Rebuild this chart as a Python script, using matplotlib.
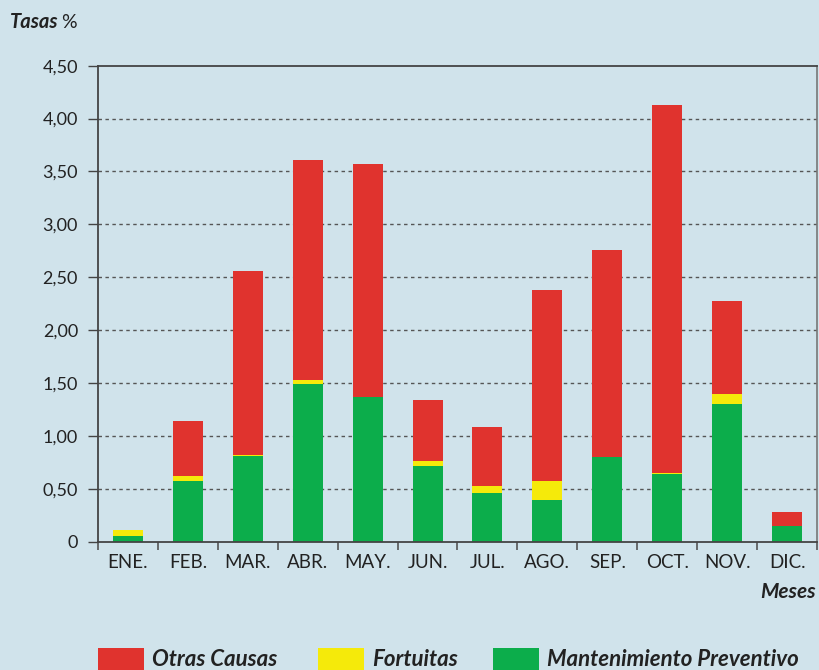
import matplotlib
matplotlib.use("Agg")
import matplotlib.pyplot as plt
import numpy as np
from matplotlib.patches import Rectangle

months = ["ENE.", "FEB.", "MAR.", "ABR.", "MAY.", "JUN.", "JUL.", "AGO.", "SEP.", "OCT.", "NOV.", "DIC."]
mantenimiento = [0.05, 0.57, 0.81, 1.49, 1.37, 0.72, 0.46, 0.39, 0.80, 0.64, 1.30, 0.15]
fortuitas = [0.06, 0.05, 0.01, 0.04, 0.00, 0.04, 0.07, 0.18, 0.00, 0.01, 0.10, 0.00]
otras = [0.00, 0.52, 1.74, 2.08, 2.20, 0.58, 0.55, 1.81, 1.96, 3.48, 0.88, 0.13]
yticks = [0, 0.5, 1.0, 1.5, 2.0, 2.5, 3.0, 3.5, 4.0, 4.5]
ylabels = ["0", "0,50", "1,00", "1,50", "2,00", "2,50", "3,00", "3,50", "4,00", "4,50"]

BG = "#d0e3eb"
RED = "#e0332e"
YEL = "#f5ea0a"
GRN = "#0cad4b"
AX = "#444444"
TXT = "#222222"

plt.rcParams['font.family'] = ['Lato', 'DejaVu Sans']

fig = plt.figure(figsize=(8.2, 6.7), dpi=100, facecolor=BG)
ax = fig.add_axes([98/820, 1 - 541.7/670, 719/820, 476/670])
ax.set_facecolor(BG)

x = np.arange(len(months))
m = np.array(mantenimiento)
f = np.array(fortuitas)
o = np.array(otras)
ax.bar(x, m, width=0.5, color=GRN, zorder=3)
ax.bar(x, f, width=0.5, bottom=m, color=YEL, zorder=3)
ax.bar(x, o, width=0.5, bottom=m + f, color=RED, zorder=3)

ax.set_xlim(-0.5, len(months) - 0.5)
ax.set_ylim(0, 4.5)

ax.set_yticks(yticks)
ax.set_yticklabels(ylabels, fontsize=13, color=TXT)
ax.tick_params(axis='y', length=7.2, width=1.0, color=AX, pad=7.2)
for yv in yticks[1:-1]:
    ax.axhline(yv, color="#555555", lw=1.0, ls=(0, (2.5, 2.5)), zorder=1)

ax.set_xticks(x)
ax.set_xticklabels(months, fontsize=13.5, color=TXT)
ax.tick_params(axis='x', which='major', length=0, pad=9)
ax.set_xticks(np.arange(-0.5, len(months) + 0.5, 1), minor=True)
ax.tick_params(axis='x', which='minor', length=5.8, width=1.2, color="#555555", direction='out')

for side in ["left", "bottom", "top"]:
    ax.spines[side].set_color(AX)
    ax.spines[side].set_linewidth(1.3)
ax.spines["right"].set_color("#777777")
ax.spines["right"].set_linewidth(1.2)
ax.spines["bottom"].set_zorder(4)

fig.text(10/820, 1 - 22/670, "Tasas", fontsize=14.5, fontweight='bold', style='italic',
         color=TXT, va='center', ha='left')
fig.text(61/820, 1 - 22/670, "%", fontsize=14, color=TXT, va='center', ha='left')
fig.text(816/820, 1 - 592/670, "Meses", fontsize=15, fontweight='bold', style='italic',
         color=TXT, va='center', ha='right')

legend_items = [(RED, "Otras Causas", 98), (YEL, "Fortuitas", 318), (GRN, "Mantenimiento Preventivo", 493)]
for col, lab, px in legend_items:
    fig.patches.append(Rectangle((px/820, 0), 46/820, 22/670,
                                 transform=fig.transFigure, facecolor=col, edgecolor='none'))
    fig.text((px + 54)/820, 1 - 659/670, lab, fontsize=16, fontweight='bold', style='italic',
             color=TXT, va='center', ha='left')

fig.savefig("out.png", dpi=100, facecolor=BG)
